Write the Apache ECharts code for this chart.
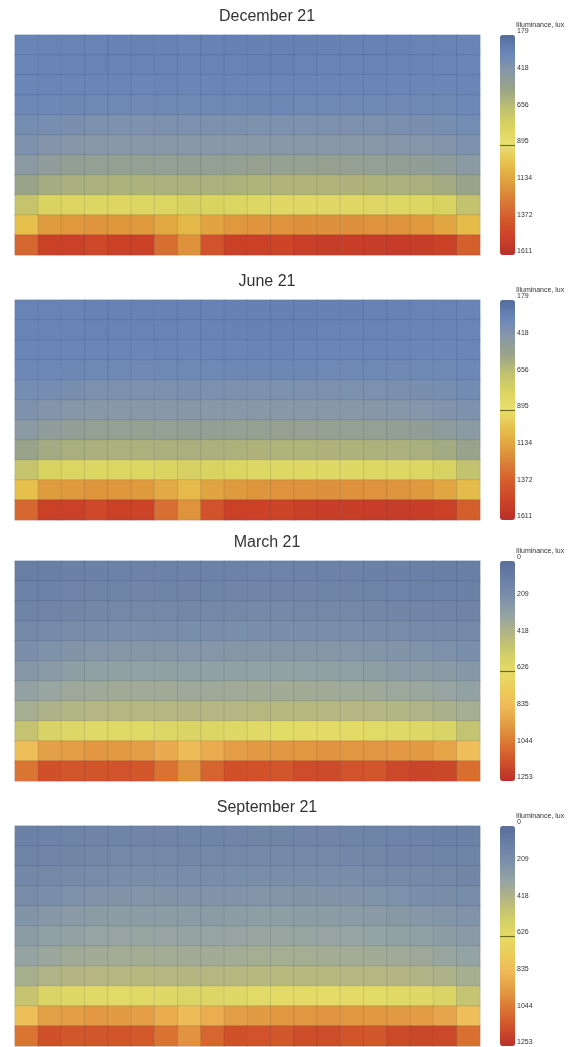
<!DOCTYPE html>
<html>
<head>
<meta charset="utf-8">
<script src="https://cdn.jsdelivr.net/npm/echarts@6/dist/echarts.min.js"></script>
<style>
html,body{margin:0;padding:0;background:#fff;}
#chart{width:574px;height:1047px;}
</style>
</head>
<body>
<div id="chart"></div>
<script>
// ---------- DATA ----------
const titles = ['December 21', 'June 21', 'March 21', 'September 21'];
const columns = ['1','2','3','4','5','6','7','8','9','10','11','12','13','14','15','16','17','18','19','20'];
const rowCats = ['1','2','3','4','5','6','7','8','9','10','11'];

const decTicks = ['179','418','656','895','1134','1372','1611'];
const junTicks = ['179','418','656','895','1134','1372','1611'];
const marTicks = ['0','209','418','626','835','1044','1253'];
const sepTicks = ['0','209','418','626','835','1044','1253'];

const decRange = [179, 1611];
const junRange = [179, 1611];
const marRange = [0, 1253];
const sepRange = [0, 1253];

const decRows = [
  [292,290,288,286,285,284,284,286,282,280,278,278,279,280,281,283,285,287,289,292],
  [296,294,292,290,290,289,290,292,288,286,285,285,286,287,288,290,292,294,296,298],
  [302,300,298,298,300,302,300,302,298,297,296,296,297,298,299,300,301,302,304,300],
  [312,310,314,318,320,322,320,318,316,315,314,314,315,316,318,320,322,320,318,310],
  [345,350,360,372,375,378,372,368,370,374,376,376,375,374,372,370,366,360,352,335],
  [380,400,412,418,420,422,420,416,418,420,422,422,421,420,418,416,412,405,395,378],
  [440,470,488,495,498,500,496,490,494,498,502,504,503,502,500,496,490,480,462,438],
  [530,570,585,592,595,596,592,588,592,598,604,606,606,605,602,598,594,586,568,528],
  [680,770,790,795,798,796,782,760,772,785,805,815,818,818,815,810,805,795,765,670],
  [1020,1150,1160,1170,1165,1155,1100,1040,1120,1160,1170,1178,1182,1185,1182,1178,1172,1160,1115,1030],
  [1330,1500,1505,1465,1500,1490,1300,1180,1410,1500,1495,1480,1510,1520,1515,1525,1530,1520,1500,1360]
];
const junRows = [
  [290,288,286,285,284,283,284,285,281,279,277,277,278,279,280,282,284,286,288,291],
  [295,293,291,289,289,288,289,291,287,285,284,284,285,286,287,289,291,293,295,297],
  [300,299,297,297,299,301,299,301,297,296,295,295,296,297,298,299,300,301,303,299],
  [310,309,313,317,319,321,319,317,315,314,313,313,314,315,317,319,321,319,317,309],
  [342,348,358,370,374,376,370,366,368,372,374,375,374,373,371,368,364,358,350,332],
  [378,398,410,416,419,420,418,414,416,419,421,421,420,419,417,414,410,403,393,376],
  [438,468,486,493,496,498,494,488,492,496,500,502,501,500,498,494,488,478,460,436],
  [528,568,583,590,593,594,590,586,590,596,602,604,604,603,600,596,592,584,566,526],
  [678,768,788,793,796,794,780,758,770,783,803,813,816,816,813,808,803,793,763,668],
  [1018,1148,1158,1168,1163,1153,1098,1038,1118,1158,1168,1176,1180,1183,1180,1176,1170,1158,1113,1028],
  [1328,1498,1503,1463,1498,1488,1298,1178,1408,1498,1493,1478,1508,1518,1513,1523,1528,1518,1498,1358]
];
const marRows = [
  [95,100,108,112,115,120,118,115,118,120,122,122,120,118,116,114,108,104,100,98],
  [115,118,125,130,134,138,136,132,134,138,140,140,138,136,134,130,124,120,116,114],
  [135,140,150,156,160,164,162,158,160,164,166,166,164,162,160,156,150,144,138,132],
  [165,172,185,192,196,200,198,194,196,200,204,204,202,200,196,190,184,176,168,160],
  [205,218,232,240,245,248,246,240,242,246,250,250,248,246,242,236,230,222,212,200],
  [250,268,282,290,294,296,294,288,290,294,298,298,296,294,290,280,270,272,264,248],
  [300,320,336,344,348,350,348,342,344,348,352,354,352,350,346,340,334,328,316,296],
  [370,395,410,416,420,422,420,414,416,420,424,426,425,424,420,416,410,402,388,366],
  [480,570,595,605,610,606,595,575,585,598,610,618,620,622,620,615,608,598,572,478],
  [800,920,930,945,940,925,880,820,875,930,940,948,952,955,952,948,942,935,905,805],
  [1040,1150,1130,1135,1140,1125,1050,960,1090,1150,1145,1130,1160,1165,1140,1130,1170,1180,1175,1060]
];
const sepRows = [
  [110,118,128,132,136,140,138,134,136,140,142,142,140,138,134,130,124,118,114,112],
  [130,138,150,156,160,164,162,158,160,164,166,166,164,162,158,154,146,140,134,130],
  [155,165,178,185,190,194,192,188,190,194,198,198,196,194,190,184,176,168,160,152],
  [185,200,215,225,232,236,232,226,228,232,236,236,234,232,228,222,214,204,192,180],
  [230,248,262,270,275,278,276,270,272,276,280,280,278,276,272,266,258,250,238,226],
  [270,290,305,312,316,318,316,310,312,316,320,320,318,316,312,306,298,290,278,266],
  [310,332,348,356,360,362,360,354,356,360,364,366,364,362,358,352,346,338,324,306],
  [375,400,414,420,424,426,424,418,420,424,428,430,429,428,424,420,414,406,392,372],
  [485,575,600,610,614,610,598,578,588,600,612,620,622,624,622,617,610,600,575,482],
  [800,918,928,942,938,922,876,818,872,928,938,946,950,954,950,946,940,932,902,802],
  [1045,1148,1128,1132,1138,1122,1048,958,1088,1148,1142,1128,1158,1162,1138,1128,1168,1178,1172,1058]
];

// ---------- STYLE / LAYOUT ----------
const solsticeColors = ['#536c9e','#6a86b8','#8898a8','#9aa488','#c0c070','#dad460','#e8e070',
                        '#e6c04c','#e0a040','#da7c36','#d45a2c','#cc4228','#b8302a'];
const equinoxColors = ['#5a6e9c','#6a80a6','#7c90aa','#96a4a2','#b4b682','#d0cc68','#e4dc66',
                       '#eccc5a','#eeb858','#e29a42','#da7432','#d0502a','#b8302a'];

const panels = [
  {title: titles[0], rows: decRows, ticks: decTicks, range: decRange, colors: solsticeColors},
  {title: titles[1], rows: junRows, ticks: junTicks, range: junRange, colors: solsticeColors},
  {title: titles[2], rows: marRows, ticks: marTicks, range: marRange, colors: equinoxColors},
  {title: titles[3], rows: sepRows, ticks: sepTicks, range: sepRange, colors: equinoxColors}
];
const gridTops = [35, 300, 561, 826];
const gridH = 220;
const gridLeft = 15, gridW = 465;
const barLeft = 500, barW = 15;
const font = 'Liberation Sans, Arial, Helvetica, sans-serif';

function toCells(rows) {
  const out = [];
  rows.forEach((r, y) => r.forEach((v, x) => out.push([x, y, v])));
  return out;
}

const option = {
  animation: false,
  backgroundColor: '#ffffff',
  title: [], grid: [], xAxis: [], yAxis: [], visualMap: [], series: []
};

panels.forEach((p, i) => {
  const top = gridTops[i];
  option.title.push({
    text: p.title, left: 267, top: top - 26, textAlign: 'center', padding: 0,
    textStyle: {fontFamily: font, fontSize: 16, fontWeight: 'normal', color: '#333'}
  });
  option.grid.push({left: gridLeft, top: top, width: gridW, height: gridH, outerBoundsMode: 'none'});
  option.xAxis.push({type: 'category', gridIndex: i, data: columns, show: false});
  option.yAxis.push({type: 'category', gridIndex: i, data: rowCats, inverse: true, show: false});
  option.visualMap.push({
    type: 'continuous', seriesIndex: i, min: p.range[0], max: p.range[1],
    inverse: true, orient: 'vertical', left: barLeft, top: top, padding: 0,
    itemWidth: barW, itemHeight: gridH, calculable: false, hoverLink: false,
    inRange: {color: p.colors}
  });
  option.series.push({
    type: 'heatmap', xAxisIndex: i, yAxisIndex: i, data: toCells(p.rows),
    itemStyle: {borderColor: 'rgba(30,45,70,0.11)', borderWidth: 1},
    emphasis: {disabled: true}
  });
});

panels.forEach((p, i) => {
  const top = gridTops[i];
  const gi = 4 + i;
  option.grid.push({left: barLeft, top: top, width: barW, height: gridH, outerBoundsMode: 'none'});
  option.xAxis.push({type: 'value', gridIndex: gi, min: 0, max: 1, show: false});
  option.yAxis.push({
    type: 'value', gridIndex: gi, min: 0, max: 6, interval: 1, inverse: true, position: 'right',
    name: 'Illuminance, lux', nameLocation: 'start', nameGap: 5,
    nameTextStyle: {fontFamily: font, fontSize: 7, color: '#333', align: 'left', padding: [0, 0, 0, 16]},
    axisLine: {show: false}, axisTick: {show: false}, splitLine: {show: false},
    axisLabel: {fontFamily: font, fontSize: 7, color: '#333', margin: 2, verticalAlign: 'bottom',
                formatter: v => p.ticks[v]}
  });
  option.series.push({
    type: 'line', xAxisIndex: gi, yAxisIndex: gi, data: [[0.5, 3]], symbolSize: 0, silent: true, z: 10,
    lineStyle: {opacity: 0},
    markLine: {silent: true, symbol: 'none', label: {show: false},
               lineStyle: {color: '#6e6a2a', width: 1.2, type: 'solid'}, data: [{yAxis: 3}]}
  });
});

const chart = echarts.init(document.getElementById('chart'), null, {renderer: 'canvas'});
chart.setOption(option);
</script>
</body>
</html>
